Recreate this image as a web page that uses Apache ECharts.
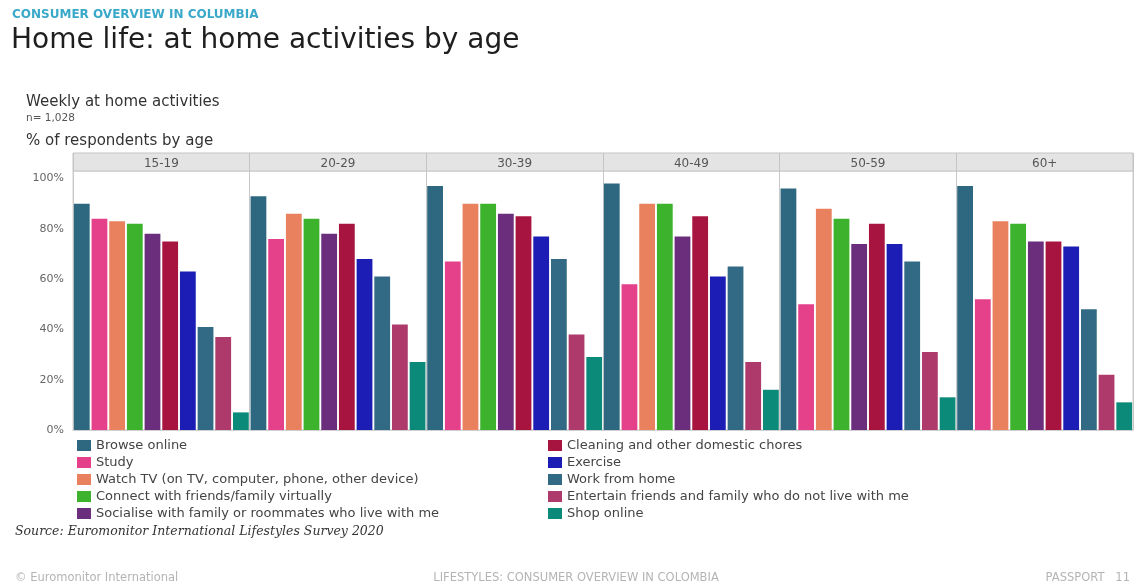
<!DOCTYPE html>
<html>
<head>
<meta charset="utf-8">
<script src="https://cdn.jsdelivr.net/npm/echarts@6/dist/echarts.min.js"></script>
<style>
  html, body { margin: 0; padding: 0; background: #fff; }
  #myChart { width: 1143px; height: 584px; }
</style>
</head>
<body>
<div id="myChart"></div>
<script>
// age groups (one panel each)
var ages = ['15-19', '20-29', '30-39', '40-49', '50-59', '60+'];
var yTicks = [0, 20, 40, 60, 80, 100];

// % of respondents, one value per age group
var browseOnline = [90, 93, 97, 98, 96, 97];
var study = [84, 76, 67, 58, 50, 52];
var watchTv = [83, 86, 90, 90, 88, 83];
var connectVirtually = [82, 84, 90, 90, 84, 82];
var socialiseAtHome = [78, 78, 86, 77, 74, 75];
var cleaning = [75, 82, 85, 85, 82, 75];
var exercise = [63, 68, 77, 61, 74, 73];
var workFromHome = [41, 61, 68, 65, 67, 48];
var entertainFriends = [37, 42, 38, 27, 31, 22];
var shopOnline = [7, 27, 29, 16, 13, 11];

var seriesNames = [
  'Browse online',
  'Study',
  'Watch TV (on TV, computer, phone, other device)',
  'Connect with friends/family virtually',
  'Socialise with family or roommates who live with me',
  'Cleaning and other domestic chores',
  'Exercise',
  'Work from home',
  'Entertain friends and family who do not live with me',
  'Shop online'
];
var seriesData = [browseOnline, study, watchTv, connectVirtually, socialiseAtHome,
  cleaning, exercise, workFromHome, entertainFriends, shopOnline];
var colors = ['#2d6880', '#e5408a', '#e9805e', '#3cb22d', '#6a2e7c',
  '#a81440', '#1b1db4', '#326a85', '#ae3a6c', '#0c8a79'];

var font = '"DejaVu Sans", sans-serif';
var myChart = echarts.init(document.getElementById('myChart'), null, { renderer: 'canvas' });

var series = [];
for (var i = 0; i < seriesNames.length; i++) {
  series.push({
    name: seriesNames[i],
    type: 'bar',
    xAxisIndex: 0,
    yAxisIndex: 0,
    barCategoryGap: '1%',
    barGap: '12%',
    itemStyle: { color: colors[i] },
    data: seriesData[i]
  });
}

var legendText = { color: '#444', fontSize: 13, fontFamily: font };

var option = {
  animation: false,
  backgroundColor: '#fff',
  color: colors,
  grid: [
    { left: 73, right: 10, top: 171, bottom: 154, show: true, borderColor: '#d0d0d0', borderWidth: 1 },
    // header strip with the age labels
    { left: 73, right: 10, top: 153, height: 18, show: true, backgroundColor: '#e4e4e4', borderColor: '#c4c4c4', borderWidth: 1 }
  ],
  xAxis: [
    {
      type: 'category',
      gridIndex: 0,
      data: ages,
      axisLabel: { show: false },
      axisTick: { show: false },
      axisLine: { lineStyle: { color: '#d0d0d0' } },
      splitLine: { show: true, lineStyle: { color: '#c8c8c8', width: 1 } }
    },
    {
      type: 'category',
      gridIndex: 1,
      position: 'top',
      data: ages,
      axisLabel: { inside: true, margin: 5, color: '#555', fontSize: 12, fontFamily: font },
      axisTick: { show: false },
      axisLine: { show: false },
      splitLine: { show: true, lineStyle: { color: '#c4c4c4', width: 1 } }
    }
  ],
  yAxis: [
    {
      type: 'value',
      gridIndex: 0,
      min: 0,
      max: 103,
      interval: 20,
      axisLine: { show: false },
      axisTick: { show: false },
      splitLine: { show: false },
      axisLabel: {
        margin: 9,
        color: '#666',
        fontSize: 11,
        fontFamily: font,
        formatter: function (v) {
          return yTicks.indexOf(v) >= 0 ? v + '%' : '';
        }
      }
    },
    { type: 'value', gridIndex: 1, show: false }
  ],
  legend: [
    {
      data: seriesNames.slice(0, 5),
      orient: 'vertical',
      left: 77,
      top: 439,
      padding: 0,
      itemWidth: 14,
      itemHeight: 11,
      itemGap: 4,
      icon: 'rect',
      selectedMode: false,
      textStyle: legendText
    },
    {
      data: seriesNames.slice(5),
      orient: 'vertical',
      left: 548,
      top: 439,
      padding: 0,
      itemWidth: 14,
      itemHeight: 11,
      itemGap: 4,
      icon: 'rect',
      selectedMode: false,
      textStyle: legendText
    }
  ],
  graphic: [
    { type: 'text', x: 12, y: 15, style: { text: 'CONSUMER OVERVIEW IN COLUMBIA', fill: '#3aa8c8', font: 'bold 12px ' + font, verticalAlign: 'middle' } },
    { type: 'text', x: 11, y: 41, style: { text: 'Home life: at home activities by age', fill: '#1e1e1e', font: '28px ' + font, verticalAlign: 'middle' } },
    { type: 'text', x: 26, y: 102, style: { text: 'Weekly at home activities', fill: '#333', font: '15px ' + font, verticalAlign: 'middle' } },
    { type: 'text', x: 26, y: 118, style: { text: 'n= 1,028', fill: '#555', font: '10.5px ' + font, verticalAlign: 'middle' } },
    { type: 'text', x: 26, y: 141, style: { text: '% of respondents by age', fill: '#333', font: '15px ' + font, verticalAlign: 'middle' } },
    { type: 'text', x: 15, y: 532, style: { text: 'Source: Euromonitor International Lifestyles Survey 2020', fill: '#333', font: 'italic 12.5px "DejaVu Serif", serif', verticalAlign: 'middle' } },
    { type: 'text', x: 15, y: 578, style: { text: '\u00a9 Euromonitor International', fill: '#b4b4b4', font: '11.5px ' + font, verticalAlign: 'middle' } },
    { type: 'text', x: 576, y: 578, style: { text: 'LIFESTYLES: CONSUMER OVERVIEW IN COLOMBIA', fill: '#b4b4b4', font: '11.5px ' + font, align: 'center', verticalAlign: 'middle' } },
    { type: 'text', x: 1130, y: 578, style: { text: 'PASSPORT   11', fill: '#b4b4b4', font: '11.5px ' + font, align: 'right', verticalAlign: 'middle' } }
  ],
  series: series
};

myChart.setOption(option);
</script>
</body>
</html>
